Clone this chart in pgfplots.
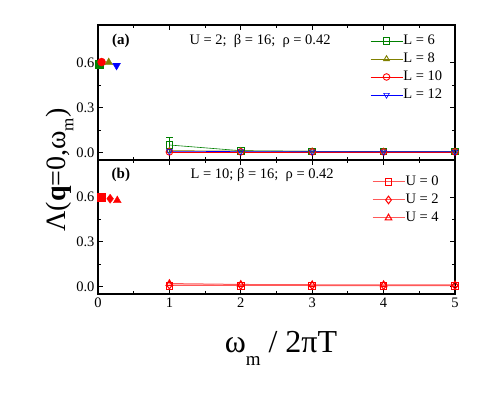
\documentclass[border=0pt]{standalone}
\usepackage{fontspec}
\setmainfont{Liberation Serif}
\usepackage{pgfplots}
\pgfplotsset{compat=1.18}

\definecolor{cgreen}{RGB}{0,128,0}
\definecolor{colive}{RGB}{128,128,0}
\definecolor{cred}{RGB}{255,0,0}
\definecolor{cblue}{RGB}{0,0,255}

\pgfplotsset{
  panel/.style={
    scale only axis, width=357pt,
    xmin=0, xmax=5, ymin=-0.05, ymax=0.85,
    xtick={0,1,2,3,4,5}, ytick={0,0.3,0.6},
    minor x tick num=1, minor y tick num=1,
    tick align=inside,
    axis line style={line width=1.2pt},
    major tick length=5pt, minor tick length=3pt,
    every tick/.style={line width=0.9pt, black},
    yticklabel style={/pgf/number format/.cd, fixed, fixed zerofill, precision=1},
    ticklabel style={font=\fontsize{14.5}{15}\selectfont},
    /pgf/number format/assume math mode=true,
    legend cell align=left,
    legend style={draw=none, fill=none, font=\fontsize{14.5}{15}\selectfont,
      inner sep=0pt, row sep=4pt,
      nodes={inner sep=0.5pt, text height=10pt, text depth=3pt}},
    legend image code/.code={\draw[mark repeat=2,mark phase=2,#1] plot coordinates {(0pt,0pt) (16pt,0pt) (32pt,0pt)};},
  },
  opn/.style={mark size=3.3pt, line width=0.6pt, mark options={solid, line width=0.9pt}},
  fil/.style={only marks, mark size=4pt, forget plot},
}

\begin{document}
\begin{tikzpicture}
\path[use as bounding box] (0,0) rectangle (485pt,396pt);

% top panel
\begin{axis}[panel, at={(98pt,236pt)}, anchor=south west, height=135pt,
  xticklabels={},
  legend style={at={(0.762,0.935)}, anchor=north west}]
\addplot[cgreen, fil, mark=square*] coordinates {(0.02,0.588)};
\addplot[colive, fil, mark=triangle*, mark size=4.5pt] coordinates {(0.15,0.600)};
\addplot[cred, fil, mark=*] coordinates {(0.05,0.603)};
\addplot[cblue, fil, mark=triangle*, mark size=4.5pt, mark options={rotate=180}] coordinates {(0.26,0.580)};

\addplot[cgreen, opn, mark=square, error bars/.cd, y dir=both, y explicit]
  coordinates {(1,0.05) +- (0,0.05) (2,0.012) +- (0,0.004) (3,0.008) +- (0,0.002) (4,0.007) +- (0,0.002) (5,0.008) +- (0,0.002)};
\addlegendentry{L = 6}
\addplot[colive, opn, mark=triangle] coordinates {(1,0.012) (2,0.010) (3,0.008) (4,0.006) (5,0.006)};
\addlegendentry{L = 8}
\addplot[cred, opn, mark=o] coordinates {(1,0.004) (2,0.004) (3,0.004) (4,0.004) (5,0.004)};
\addlegendentry{L = 10}
\addplot[cblue, opn, mark=triangle, mark options={rotate=180}] coordinates {(1,0.008) (2,0.006) (3,0.005) (4,0.005) (5,0.005)};
\addlegendentry{L = 12}

\node[font=\fontsize{15}{16}\selectfont\bfseries] at (axis cs:0.32,0.743) {(a)};
\node[font=\fontsize{14.5}{15}\selectfont] at (axis cs:2.27,0.743) {U = 2;\ \ β = 16;\ \ ρ = 0.42};
\end{axis}

% bottom panel
\begin{axis}[panel, at={(98pt,102pt)}, anchor=south west, height=134pt,
  legend style={at={(0.767,0.89)}, anchor=north west}]
\addplot[cred, fil, mark=square*] coordinates {(0.05,0.598)};
\addplot[cred, fil, mark=diamond*, mark size=4.5pt] coordinates {(0.17,0.590)};
\addplot[cred, fil, mark=triangle*, mark size=4.5pt] coordinates {(0.27,0.578)};

\addplot[cred!65, opn, line width=1pt, mark=square, mark options={draw=cred}] coordinates {(1,0.004) (2,0.004) (3,0.004) (4,0.004) (5,0.004)};
\addlegendentry{U = 0}
\addplot[cred!65, opn, line width=1pt, mark=diamond, mark size=3.8pt, mark options={draw=cred}] coordinates {(1,0.010) (2,0.008) (3,0.007) (4,0.007) (5,0.007)};
\addlegendentry{U = 2}
\addplot[cred!65, opn, line width=1pt, mark=triangle, mark size=3.8pt, mark options={draw=cred}] coordinates {(1,0.020) (2,0.014) (3,0.012) (4,0.012) (5,0.012)};
\addlegendentry{U = 4}

\node[font=\fontsize{15}{16}\selectfont\bfseries] at (axis cs:0.32,0.75) {(b)};
\node[font=\fontsize{14.5}{15}\selectfont] at (axis cs:2.30,0.75) {L = 10; β = 16;\ \ ρ = 0.42};
\end{axis}

\node[rotate=90, anchor=base, font=\fontsize{28}{30}\selectfont] at (65pt,226pt)
  {Λ(\textbf{q}=0,ω\raisebox{-0.3em}{\fontsize{17}{17}\selectfont m})};
\node[anchor=base, font=\fontsize{32}{34}\selectfont] at (281pt,43pt)
  {ω\raisebox{-0.4em}{\fontsize{19}{19}\selectfont m} / 2πT};
\end{tikzpicture}
\end{document}
